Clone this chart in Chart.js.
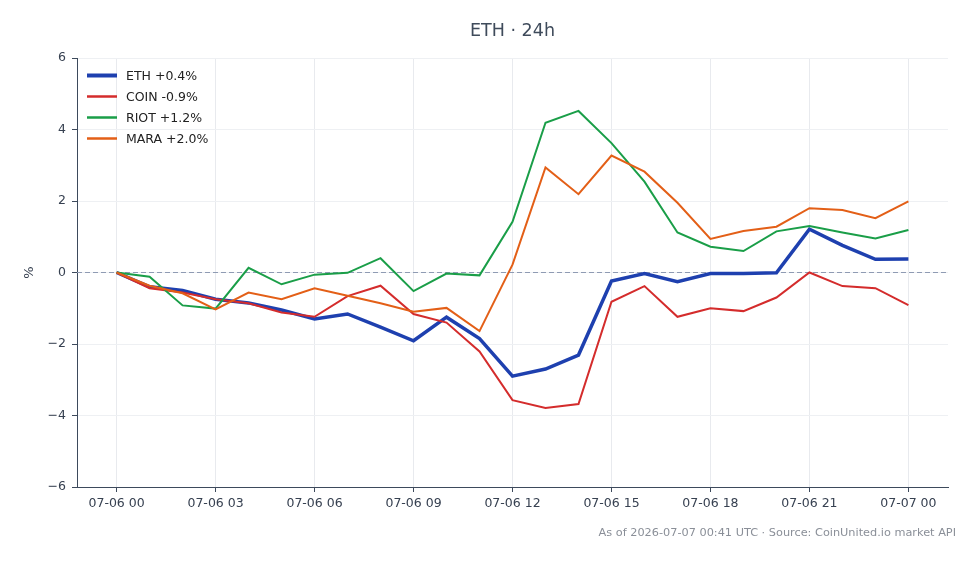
<!DOCTYPE html>
<html>
<head>
<meta charset="utf-8">
<script src="https://cdn.jsdelivr.net/npm/chart.js@4.4.1/dist/chart.umd.min.js"></script>
<style>
  html, body { margin: 0; padding: 0; background: #fff; }
  #wrap { width: 980px; height: 564px; }
</style>
</head>
<body>
<div id="wrap"><canvas id="ethChart" width="980" height="564"></canvas></div>
<script>
// hourly labels, 07-06 00 .. 07-07 00
var hours = ["07-06 00","07-06 01","07-06 02","07-06 03","07-06 04","07-06 05","07-06 06","07-06 07",
	"07-06 08","07-06 09","07-06 10","07-06 11","07-06 12","07-06 13","07-06 14","07-06 15",
	"07-06 16","07-06 17","07-06 18","07-06 19","07-06 20","07-06 21","07-06 22","07-06 23","07-07 00"];
var xTicks = [0, 3, 6, 9, 12, 15, 18, 21, 24];
var yTicks = [-6, -4, -2, 0, 2, 4, 6];

// % change since start
var eth  = [0, -0.40, -0.50, -0.75, -0.85, -1.05, -1.30, -1.16, -1.53, -1.91, -1.25, -1.85,
	-2.90, -2.70, -2.31, -0.24, -0.03, -0.26, -0.03, -0.03, -0.01, 1.21, 0.76, 0.37, 0.38];
var coin = [0, -0.44, -0.56, -0.75, -0.86, -1.12, -1.24, -0.66, -0.37, -1.16, -1.40, -2.21,
	-3.57, -3.79, -3.68, -0.82, -0.38, -1.24, -1.00, -1.08, -0.70, 0.00, -0.38, -0.44, -0.91];
var riot = [0, -0.12, -0.92, -1.01, 0.13, -0.33, -0.06, -0.01, 0.40, -0.52, -0.03, -0.08,
	1.42, 4.19, 4.52, 3.62, 2.54, 1.12, 0.72, 0.60, 1.15, 1.30, 1.12, 0.95, 1.19];
var mara = [0, -0.37, -0.58, -1.03, -0.56, -0.75, -0.44, -0.65, -0.86, -1.10, -0.99, -1.64,
	0.22, 2.94, 2.19, 3.27, 2.82, 1.95, 0.94, 1.16, 1.28, 1.80, 1.75, 1.52, 1.99];

var seriesNames = ["ETH +0.4%", "COIN -0.9%", "RIOT +1.2%", "MARA +2.0%"];
var seriesColors = ["#1e40af", "#d42c2c", "#1a9e48", "#e35f17"];
var seriesWidths = [3.5, 2, 2, 2];

var FONT = "'DejaVu Sans', sans-serif";

function toPoints(arr) {
	return arr.map(function (v, i) { return { x: i, y: v }; });
}

var decor = {
	id: 'decor',
	beforeDatasetsDraw: function (chart) {
		var ctx = chart.ctx, area = chart.chartArea;
		var y0 = chart.scales.y.getPixelForValue(0);
		ctx.save();
		ctx.strokeStyle = '#8f9bb3';
		ctx.lineWidth = 1;
		ctx.setLineDash([5, 3]);
		ctx.beginPath();
		ctx.moveTo(area.left, y0);
		ctx.lineTo(area.right, y0);
		ctx.stroke();
		ctx.restore();
	},
	afterDraw: function (chart) {
		var ctx = chart.ctx, area = chart.chartArea;
		ctx.save();
		// title
		ctx.fillStyle = '#3f4b5b';
		ctx.font = '17.5px ' + FONT;
		ctx.textAlign = 'center';
		ctx.textBaseline = 'middle';
		ctx.fillText('ETH · 24h', (area.left + area.right) / 2, 31);
		// y label
		ctx.save();
		ctx.translate(30, (area.top + area.bottom) / 2);
		ctx.rotate(-Math.PI / 2);
		ctx.fillStyle = '#374151';
		ctx.font = '13px ' + FONT;
		ctx.fillText('%', 0, 0);
		ctx.restore();
		// legend
		ctx.font = '12.5px ' + FONT;
		ctx.textAlign = 'left';
		for (var i = 0; i < seriesNames.length; i++) {
			var ly = 75.5 + i * 21;
			ctx.strokeStyle = seriesColors[i];
			ctx.lineWidth = seriesWidths[i] + 0.5;
			ctx.beginPath();
			ctx.moveTo(87, ly);
			ctx.lineTo(117, ly);
			ctx.stroke();
			ctx.fillStyle = '#222';
			ctx.fillText(seriesNames[i], 126, ly + 1);
		}
		// footnote
		ctx.fillStyle = '#8a8f98';
		ctx.font = '11.3px ' + FONT;
		ctx.textAlign = 'right';
		ctx.fillText('As of 2026-07-07 00:41 UTC · Source: CoinUnited.io market API', 956, 533);
		ctx.restore();
	}
};

var ctx = document.getElementById('ethChart').getContext('2d');
var chart = new Chart(ctx, {
	type: 'line',
	data: {
		datasets: [eth, coin, riot, mara].map(function (arr, i) {
			return {
				label: seriesNames[i],
				data: toPoints(arr),
				borderColor: seriesColors[i],
				backgroundColor: seriesColors[i],
				borderWidth: seriesWidths[i],
				pointRadius: 0,
				tension: 0
			};
		}).reverse()
	},
	options: {
		responsive: false,
		animation: false,
		layout: { padding: { left: 0, right: 32, top: 58, bottom: 0 } },
		plugins: {
			legend: { display: false },
			title: { display: false },
			tooltip: { enabled: false }
		},
		scales: {
			x: {
				type: 'linear',
				min: -1.2,
				max: 25.2,
				afterBuildTicks: function (scale) {
					scale.ticks = xTicks.map(function (v) { return { value: v }; });
				},
				afterFit: function (scale) { scale.height = 77; },
				grid: { color: '#e8eaee', tickColor: '#3d4a5c', tickLength: 5 },
				border: { display: true, color: '#3d4a5c', width: 1 },
				ticks: {
					color: '#374151',
					font: { family: FONT, size: 12.5 },
					padding: 4,
					maxRotation: 0,
					autoSkip: false,
					callback: function (v) { return hours[v]; }
				}
			},
			y: {
				min: -6,
				max: 6,
				afterBuildTicks: function (scale) {
					scale.ticks = yTicks.map(function (v) { return { value: v }; });
				},
				afterFit: function (scale) { scale.width = 77; },
				grid: { color: '#eef0f3', tickColor: '#3d4a5c', tickLength: 5 },
				border: { display: true, color: '#3d4a5c', width: 1 },
				ticks: {
					color: '#374151',
					font: { family: FONT, size: 12.5 },
					padding: 6,
					callback: function (v) { return v < 0 ? '\u2212' + Math.abs(v) : String(v); }
				}
			}
		}
	},
	plugins: [decor]
});
</script>
</body>
</html>
